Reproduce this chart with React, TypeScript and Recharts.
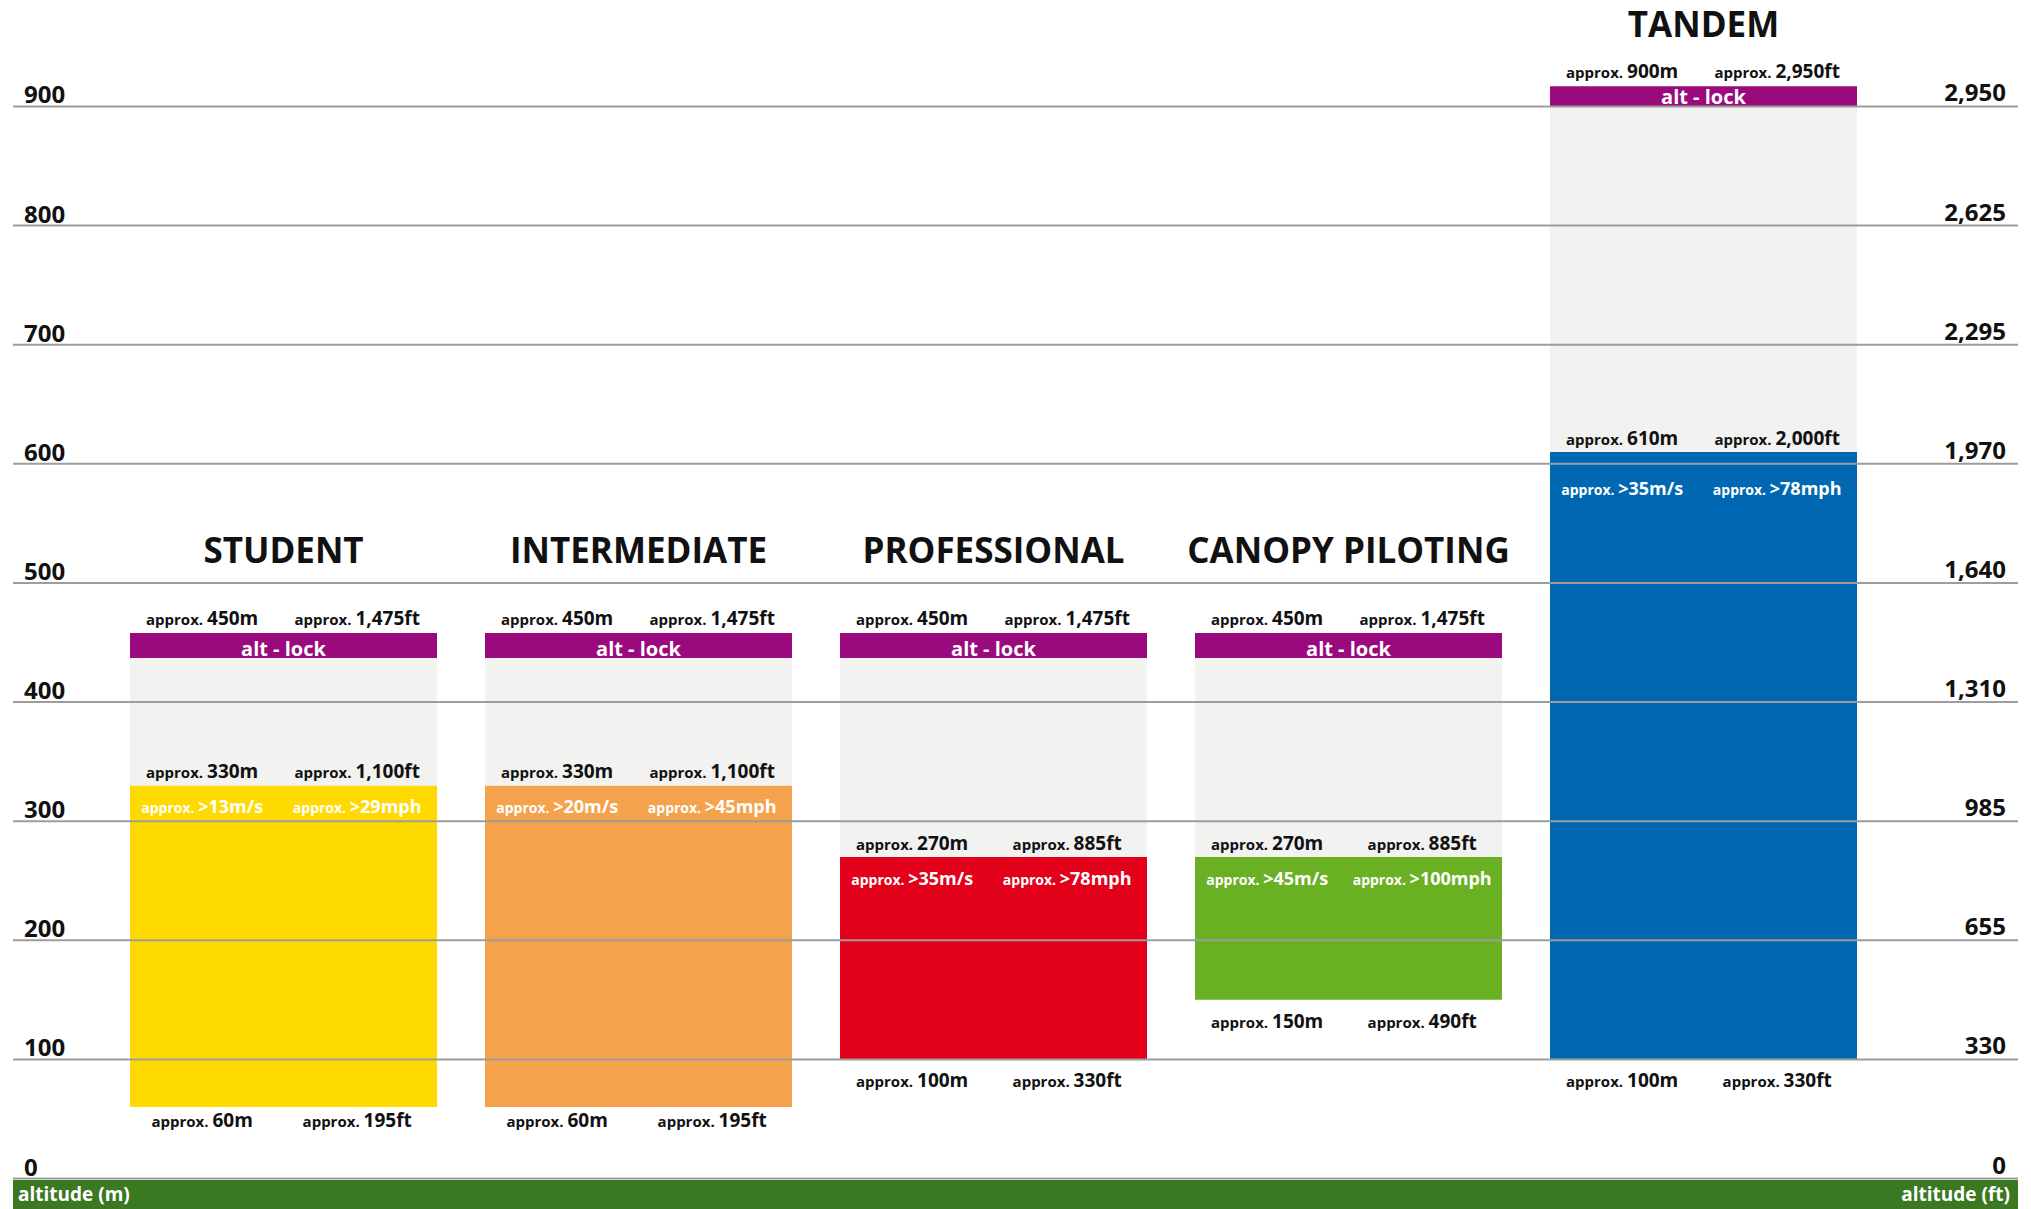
import React from "react";
import { BarChart, Bar, XAxis, YAxis, Cell, ReferenceLine, LabelList } from "recharts";

const FONT = "'Open Sans', sans-serif";

// altitudes in metres
const categories = ["STUDENT", "INTERMEDIATE", "PROFESSIONAL", "CANOPY PILOTING", "TANDEM"];
const openLowM = [60, 60, 100, 150, 100];
const deployM = [330, 330, 270, 270, 610];
const lockLowM = [437, 437, 437, 437, 900];
const lockTopM = [458, 458, 458, 458, 917];

// label texts
const lockLabelM = ["450m", "450m", "450m", "450m", "900m"];
const lockLabelFt = ["1,475ft", "1,475ft", "1,475ft", "1,475ft", "2,950ft"];
const deployLabelM = ["330m", "330m", "270m", "270m", "610m"];
const deployLabelFt = ["1,100ft", "1,100ft", "885ft", "885ft", "2,000ft"];
const speedMs = [">13m/s", ">20m/s", ">35m/s", ">45m/s", ">35m/s"];
const speedMph = [">29mph", ">45mph", ">78mph", ">100mph", ">78mph"];
const lowLabelM = ["60m", "60m", "100m", "150m", "100m"];
const lowLabelFt = ["195ft", "195ft", "330ft", "490ft", "330ft"];

const mTicks = [0, 100, 200, 300, 400, 500, 600, 700, 800, 900];
const ftTicks = ["0", "330", "655", "985", "1,310", "1,640", "1,970", "2,295", "2,625", "2,950"];

const canopyColors = ["#FFDA00", "#F4A24C", "#E2001A", "#6AB023", "#0068B3"];

const data = categories.map((name, i) => ({
  name,
  base: openLowM[i],
  canopy: deployM[i] - openLowM[i],
  freefall: lockLowM[i] - deployM[i],
  lock: lockTopM[i] - lockLowM[i],
}));

const box = (p: any) => {
  const vb = p.viewBox ?? {};
  return {
    x: Number(p.x ?? vb.x),
    y: Number(p.y ?? vb.y),
    w: Number(p.width ?? vb.width),
    h: Number(p.height ?? vb.height),
    i: Number(p.index),
  };
};

const Pair = ({ x, w, y, left, right, fill, small = 15, big = 19 }: any) => (
  <g fontFamily={FONT} fontWeight={700} fill={fill}>
    <text x={x + w * 0.235} y={y} textAnchor="middle">
      <tspan fontSize={small}>approx. </tspan>
      <tspan fontSize={big}>{left}</tspan>
    </text>
    <text x={x + w * 0.74} y={y} textAnchor="middle">
      <tspan fontSize={small}>approx. </tspan>
      <tspan fontSize={big}>{right}</tspan>
    </text>
  </g>
);

const LockLabel = (p: any) => {
  const { x, y, w, h, i } = box(p);
  return (
    <g>
      <text x={x + w / 2} y={y + h - 2} textAnchor="middle" fill="#fff"
        fontFamily={FONT} fontWeight={700} fontSize={20}>alt - lock</text>
      <Pair x={x} w={w} y={y - 8} left={lockLabelM[i]} right={lockLabelFt[i]} fill="#111" />
      <text x={x + w / 2} y={Math.max(y - 70, 37)} textAnchor="middle" fill="#111"
        fontFamily={FONT} fontWeight={700} fontSize={35}>{categories[i]}</text>
    </g>
  );
};

const FreefallLabel = (p: any) => {
  const { x, y, w, h, i } = box(p);
  return <Pair x={x} w={w} y={y + h - 7} left={deployLabelM[i]} right={deployLabelFt[i]} fill="#111" />;
};

const CanopyLabel = (p: any) => {
  const { x, y, w, h, i } = box(p);
  const speedGap = i === 4 ? 43 : 28;
  return (
    <g>
      <Pair x={x} w={w} y={y + speedGap} left={speedMs[i]} right={speedMph[i]} fill="#fff" small={14} big={18} />
      <Pair x={x} w={w} y={Math.min(y + h + 28, 1127)} left={lowLabelM[i]} right={lowLabelFt[i]} fill="#111" />
    </g>
  );
};

// tick texts sit above each grid line, metres on the left, feet on the right
const GridTickLabel = ({ viewBox, idx }: any) => {
  const y = Number(viewBox?.y ?? 0);
  return (
    <g fill="#111" fontFamily={FONT} fontWeight={700} fontSize={24}>
      <text x={24} y={y - 3}>{mTicks[idx]}</text>
      <text x={2006} y={y - 5} textAnchor="end">{ftTicks[idx]}</text>
    </g>
  );
};

export default function App() {
  return (
    <div style={{ position: "absolute", left: 0, top: 0, width: 2031, height: 1209, overflow: "hidden", background: "#fff" }}>
      <BarChart
        width={2031}
        height={1209}
        data={data}
        barSize={307}
        margin={{ top: 11.2, right: 13, bottom: 30.5, left: 13 }}
      >
        <XAxis dataKey="name" hide padding={{ left: 93, right: 137 }} />
        <YAxis yAxisId="m" hide domain={[0, 980]} ticks={mTicks} />
        <Bar yAxisId="m" dataKey="base" stackId="a" fill="transparent" isAnimationActive={false} />
        <Bar yAxisId="m" dataKey="canopy" stackId="a" isAnimationActive={false}>
          {data.map((d, i) => (
            <Cell key={d.name} fill={canopyColors[i]} />
          ))}
          <LabelList dataKey="name" content={<CanopyLabel />} />
        </Bar>
        <Bar yAxisId="m" dataKey="freefall" stackId="a" fill="#F2F2F1" isAnimationActive={false}>
          <LabelList dataKey="name" content={<FreefallLabel />} />
        </Bar>
        <Bar yAxisId="m" dataKey="lock" stackId="a" fill="#9B0A7D" isAnimationActive={false}>
          <LabelList dataKey="name" content={<LockLabel />} />
        </Bar>
        {mTicks.map((t, idx) => (
          <ReferenceLine key={t} yAxisId="m" y={t} stroke="#9D9D9D" strokeWidth={2}
            label={<GridTickLabel idx={idx} />} />
        ))}
      </BarChart>
      <div
        style={{
          position: "absolute", left: 13, top: 1180, width: 2005, height: 29, background: "#3A7822",
          color: "#fff", fontFamily: FONT, fontWeight: 700, fontSize: 19, lineHeight: "29px",
          display: "flex", justifyContent: "space-between", padding: "0 8px 0 5px", boxSizing: "border-box",
        }}
      >
        <span>altitude (m)</span>
        <span>altitude (ft)</span>
      </div>
    </div>
  );
}
